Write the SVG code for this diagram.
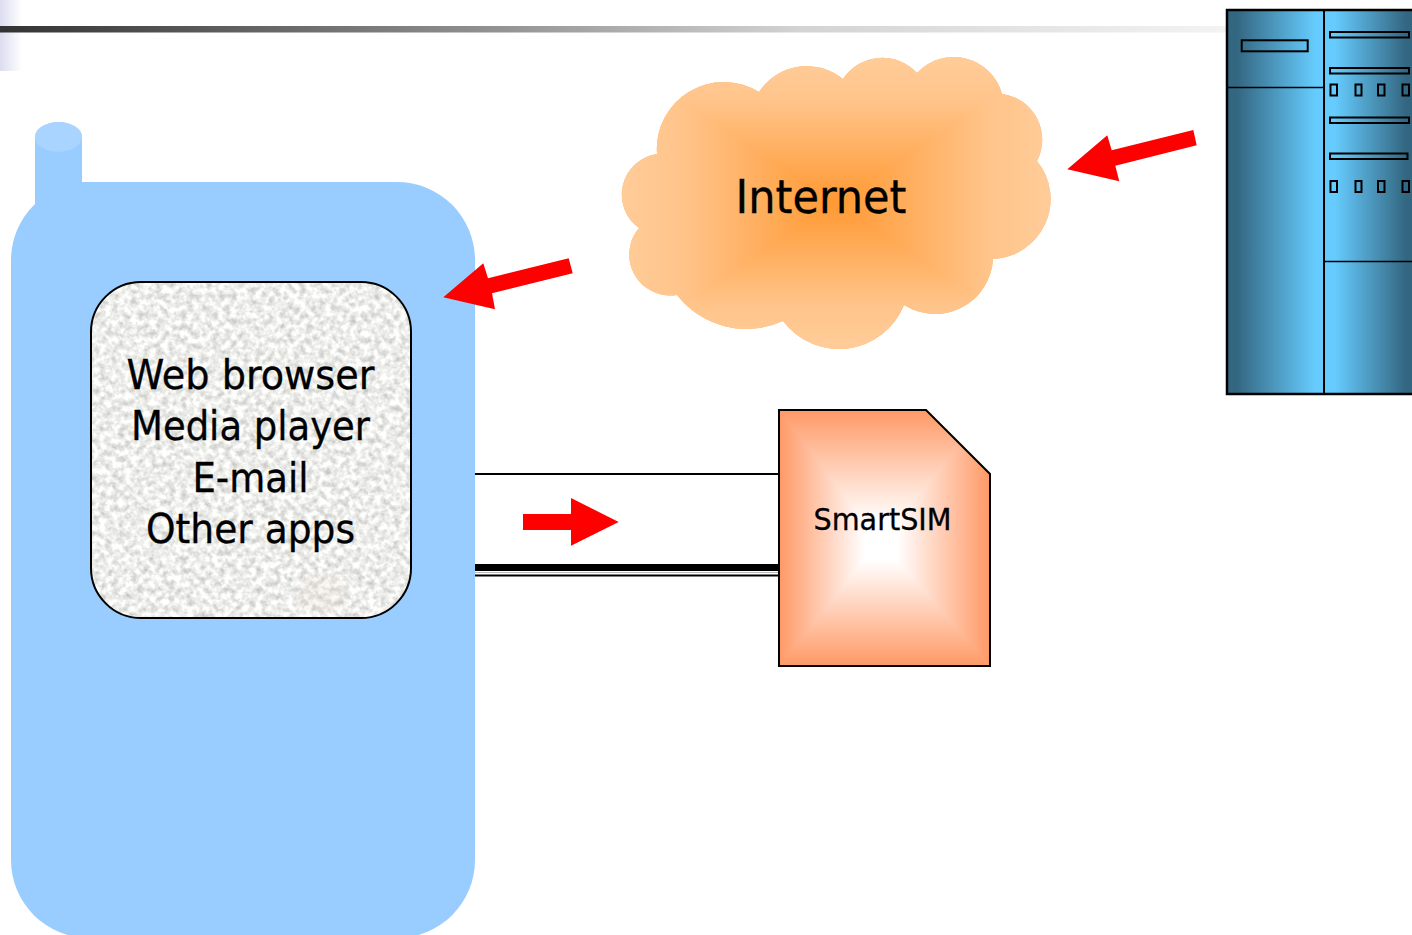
<svg xmlns="http://www.w3.org/2000/svg" width="1412" height="935" viewBox="0 0 1412 935">
<style>
text{font-family:"DejaVu Sans Condensed","DejaVu Sans",sans-serif;fill:#000;text-anchor:middle;stroke:#000;stroke-width:.3px}
.apps{font-size:41px}
.hw{fill:none;stroke:#000;stroke-width:2}
.arrow{fill:#f00}
.link{stroke:#000;fill:none}
.seg{shape-rendering:crispEdges}
</style>
<defs>
<linearGradient id="bar" x1="0" x2="1226" y1="0" y2="0" gradientUnits="userSpaceOnUse"><stop offset="0" stop-color="#333"/><stop offset=".408" stop-color="#939393"/><stop offset=".652" stop-color="#d3d3d3"/><stop offset="1" stop-color="#f3f3f3"/></linearGradient>
<linearGradient id="corner" x1="0" x2="22" y1="0" y2="0" gradientUnits="userSpaceOnUse"><stop offset="0" stop-color="#dcdcf0"/><stop offset="1" stop-color="#fff"/></linearGradient>
<linearGradient id="srv" x1="1227" x2="1412" y1="0" y2="0" gradientUnits="userSpaceOnUse"><stop offset="0" stop-color="#336680"/><stop offset=".05" stop-color="#336680"/><stop offset=".48" stop-color="#66ccff"/><stop offset=".58" stop-color="#66ccff"/><stop offset=".97" stop-color="#336680"/></linearGradient>
<linearGradient id="cl" x1="619" x2="835" y1="0" y2="0" gradientUnits="userSpaceOnUse"><stop offset="0" stop-color="#ffcc99"/><stop offset=".3" stop-color="#ffc48a"/><stop offset="1" stop-color="#ff9933"/></linearGradient>
<linearGradient id="cr" x1="1051" x2="835" y1="0" y2="0" gradientUnits="userSpaceOnUse"><stop offset="0" stop-color="#ffcc99"/><stop offset=".3" stop-color="#ffc48a"/><stop offset="1" stop-color="#ff9933"/></linearGradient>
<linearGradient id="ct" x1="0" x2="0" y1="58" y2="203" gradientUnits="userSpaceOnUse"><stop offset="0" stop-color="#ffcc99"/><stop offset=".3" stop-color="#ffc48a"/><stop offset="1" stop-color="#ff9933"/></linearGradient>
<linearGradient id="cb" x1="0" x2="0" y1="348" y2="203" gradientUnits="userSpaceOnUse"><stop offset="0" stop-color="#ffcc99"/><stop offset=".3" stop-color="#ffc48a"/><stop offset="1" stop-color="#ff9933"/></linearGradient>
<linearGradient id="sl" x1="779" x2="880" y1="0" y2="0" gradientUnits="userSpaceOnUse"><stop offset="0" stop-color="#ff9966"/><stop offset=".85" stop-color="#fff"/></linearGradient>
<linearGradient id="sr" x1="990" x2="880" y1="0" y2="0" gradientUnits="userSpaceOnUse"><stop offset="0" stop-color="#ff9966"/><stop offset=".85" stop-color="#fff"/></linearGradient>
<linearGradient id="st" x1="0" x2="0" y1="410" y2="541" gradientUnits="userSpaceOnUse"><stop offset="0" stop-color="#ff9966"/><stop offset=".85" stop-color="#fff"/></linearGradient>
<linearGradient id="sb" x1="0" x2="0" y1="666" y2="541" gradientUnits="userSpaceOnUse"><stop offset="0" stop-color="#ff9966"/><stop offset=".85" stop-color="#fff"/></linearGradient>
<clipPath id="cloudClip"><path d="M759 92A57 57 0 0 1 843 79A47 47 0 0 1 917 73A50 50 0 0 1 1002 94A46 46 0 0 1 1037 161A60 60 0 0 1 993 259A58 58 0 0 1 904 305A70 70 0 0 1 783 321A88 88 0 0 1 677 295A41 41 0 0 1 639 228A41 41 0 0 1 657 154A67 67 0 0 1 759 92Z"/></clipPath>
<clipPath id="simClip"><path d="M779 410H926L990 474V666H779Z"/></clipPath>
<clipPath id="screenClip"><rect x="91" y="282" width="320" height="336" rx="50"/></clipPath>
<filter id="granite" x="0" y="0" width="100%" height="100%" color-interpolation-filters="sRGB">
<feTurbulence type="fractalNoise" baseFrequency="0.16" numOctaves="3" seed="7"/>
<feColorMatrix type="matrix" values=".42 0 0 0 .72  .42 0 0 0 .72  .42 0 0 0 .71  0 0 0 0 1"/>
<feGaussianBlur stdDeviation=".6"/>
</filter>
</defs>
<rect width="1412" height="935" fill="#fff"/>
<g id="header">
<rect x="0" y="0" width="22" height="71" fill="url(#corner)"/>
<rect x="0" y="26" width="1226" height="6.500" fill="url(#bar)"/>
</g>
<g id="phone">
<path d="M35 204V137A23.5 15 0 0 1 82 137V182H397A78 78 0 0 1 475 260V860A78 78 0 0 1 397 938H89A78 78 0 0 1 11 860V260A78 78 0 0 1 35 204Z" fill="#99ccff"/>
<ellipse cx="58.500" cy="137" rx="23.500" ry="15" fill="#a9d4ff"/>
</g>
<g id="apps">
<rect x="91" y="282" width="320" height="336" rx="50" fill="#eeedeb"/>
<g clip-path="url(#screenClip)"><rect x="91" y="282" width="320" height="336" filter="url(#granite)"/>
<ellipse cx="322" cy="592" rx="24" ry="20" fill="#e8d8c8" opacity=".2"/></g>
<rect x="91" y="282" width="320" height="336" rx="50" fill="none" stroke="#000" stroke-width="2"/>
<text class="apps" x="250.500" y="389" textLength="248" lengthAdjust="spacingAndGlyphs">Web browser</text>
<text class="apps" x="250.500" y="440" textLength="239" lengthAdjust="spacingAndGlyphs">Media player</text>
<text class="apps" x="250.500" y="492" textLength="116" lengthAdjust="spacingAndGlyphs">E-mail</text>
<text class="apps" x="250.500" y="543" textLength="209" lengthAdjust="spacingAndGlyphs">Other apps</text>
</g>
<g id="cloud">
<g clip-path="url(#cloudClip)">
<rect x="600" y="40" width="470" height="320" fill="#ffb366"/>
<polygon class="seg" points="592,40 835,203 592,366" fill="url(#cl)"/>
<polygon class="seg" points="1078,40 835,203 1078,366" fill="url(#cr)"/>
<polygon class="seg" points="592,40 1078,40 835,203" fill="url(#ct)"/>
<polygon class="seg" points="592,366 1078,366 835,203" fill="url(#cb)"/>
</g>
<text x="821" y="213" font-size="47" textLength="171" lengthAdjust="spacingAndGlyphs">Internet</text>
</g>
<g id="server">
<rect x="1227" y="10" width="190" height="384" fill="url(#srv)" stroke="#000" stroke-width="2.500"/>
<path class="hw" d="M1324 10V394"/>
<path class="hw" style="stroke-width:1.500" d="M1227 87.500H1324M1324 261.500H1412"/>
<rect class="hw" x="1241.700" y="40.300" width="66" height="11"/>
<rect class="hw" x="1330" y="32" width="79" height="5.500"/>
<rect class="hw" x="1330" y="68" width="79" height="5.500"/>
<rect class="hw" x="1330" y="117.500" width="79" height="5.500"/>
<rect class="hw" x="1330" y="153.500" width="77.500" height="5.500"/>
<rect class="hw" x="1330.500" y="84.500" width="6.500" height="11"/>
<rect class="hw" x="1355.500" y="84.500" width="6" height="11"/>
<rect class="hw" x="1378" y="84.500" width="6.500" height="11"/>
<rect class="hw" x="1402.500" y="84.500" width="6.500" height="11"/>
<rect class="hw" x="1330.500" y="181" width="6.500" height="11"/>
<rect class="hw" x="1355.500" y="181" width="6" height="11"/>
<rect class="hw" x="1378" y="181" width="6.500" height="11"/>
<rect class="hw" x="1402.500" y="181" width="6.500" height="11"/>
</g>
<g id="connectors">
<path class="link" stroke-width="2" d="M475 474H779"/>
<path class="link" stroke-width="7" d="M475 567.500H779"/>
<path class="link" stroke-width="2" d="M475 575.500H779"/>
<path fill="none" stroke="#bbb" stroke-width="1" d="M475 572.500H779"/>
<polygon class="arrow" points="523,514 571,514 571,498 618.700,522 571,545.700 571,530 523,530"/>
<polygon class="arrow" points="1067.300,169.300 1107.300,135.300 1111.700,150.300 1193.300,130 1196.700,145.300 1115.300,165.700 1119.300,181.300"/>
<polygon class="arrow" points="443.300,297.300 483.300,263.300 488,278.300 568.700,258.300 572.700,273.300 492,293.300 495,309.300"/>
</g>
<g id="smartsim">
<g clip-path="url(#simClip)">
<rect x="779" y="410" width="211" height="256" fill="#ffccb3"/>
<polygon class="seg" points="779,410 880,541 779,666" fill="url(#sl)"/>
<polygon class="seg" points="990,410 880,541 990,666" fill="url(#sr)"/>
<polygon class="seg" points="779,410 990,410 880,541" fill="url(#st)"/>
<polygon class="seg" points="779,666 990,666 880,541" fill="url(#sb)"/>
</g>
<path d="M779 410H926L990 474V666H779Z" fill="none" stroke="#000" stroke-width="2"/>
<text x="882.500" y="530" font-size="31" textLength="138" lengthAdjust="spacingAndGlyphs">SmartSIM</text>
</g>
</svg>
